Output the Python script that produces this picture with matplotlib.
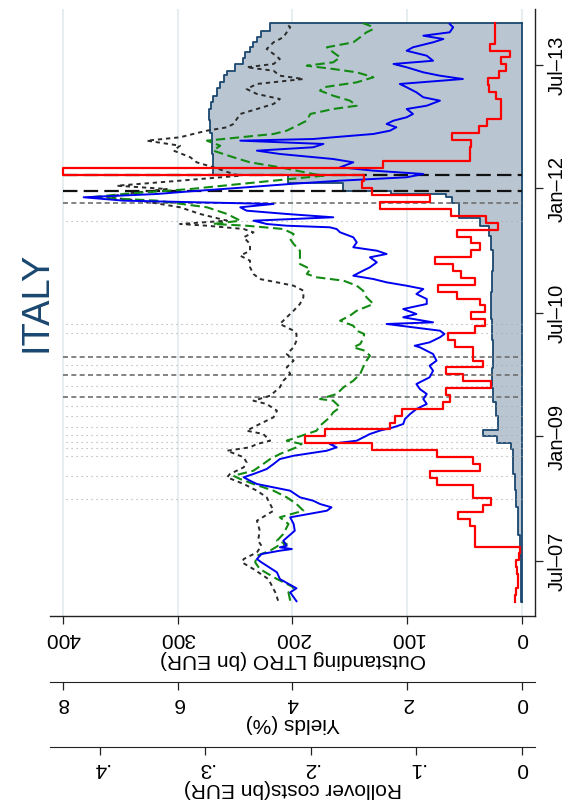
import numpy as np
import matplotlib
matplotlib.use("Agg")
import matplotlib.pyplot as plt

plt.rcParams['font.family'] = ['Liberation Sans', 'DejaVu Sans']

# ---------------- data (dates as decimal years) ----------------
# 2-year yield (blue, solid)
blue_t = [2007.005, 2007.112, 2007.161, 2007.273, 2007.354, 2007.435, 2007.475, 2007.515, 2007.576, 2007.616,
          2007.636, 2007.657, 2007.676, 2007.737, 2007.858, 2007.939, 2008.020, 2008.100, 2008.141, 2008.181,
          2008.221, 2008.262, 2008.342, 2008.383, 2008.423, 2008.463, 2008.504, 2008.544, 2008.604, 2008.665,
          2008.725, 2008.765, 2008.826, 2008.867, 2008.907, 2008.947, 2009.028, 2009.068, 2009.109, 2009.149,
          2009.209, 2009.270, 2009.330, 2009.391, 2009.451, 2009.512, 2009.572, 2009.633, 2009.714, 2009.794,
          2009.854, 2009.915, 2009.996, 2010.077, 2010.096, 2010.137, 2010.198, 2010.238, 2010.278, 2010.359,
          2010.379, 2010.440, 2010.480, 2010.540, 2010.601, 2010.661, 2010.722, 2010.782, 2010.822, 2010.863,
          2010.903, 2010.943, 2011.004, 2011.045, 2011.105, 2011.166, 2011.206, 2011.246, 2011.287, 2011.347,
          2011.408, 2011.468, 2011.508, 2011.529, 2011.548, 2011.569, 2011.609, 2011.650, 2011.690, 2011.730,
          2011.771, 2011.811, 2011.851, 2011.892, 2011.932, 2011.964, 2012.013, 2012.053, 2012.093, 2012.134,
          2012.174, 2012.214, 2012.255, 2012.315, 2012.355, 2012.416, 2012.456, 2012.497, 2012.537, 2012.577,
          2012.597, 2012.618, 2012.658, 2012.698, 2012.739, 2012.779, 2012.819, 2012.860, 2012.900, 2012.960,
          2013.000, 2013.061, 2013.102, 2013.162, 2013.223, 2013.263, 2013.323, 2013.363, 2013.404, 2013.465,
          2013.505, 2013.544, 2013.605, 2013.665, 2013.707, 2013.767, 2013.807, 2013.847, 2013.888, 2013.949,
          2013.989]
blue_v = [3.93, 4.04, 3.93, 4.22, 4.27, 4.45, 4.54, 4.62, 4.54, 4.22,
          4.01, 4.22, 4.10, 4.16, 3.96, 3.98, 4.04, 3.40, 3.32, 3.52,
          3.64, 3.87, 4.04, 4.33, 4.62, 4.74, 4.85, 4.68, 4.45, 4.33,
          4.22, 3.98, 3.40, 3.23, 3.35, 2.88, 2.65, 2.48, 2.24, 2.07,
          2.04, 1.95, 1.84, 1.66, 1.72, 1.66, 1.78, 1.84, 1.61, 1.55,
          1.61, 1.49, 1.55, 1.78, 1.87, 1.61, 1.43, 1.35, 1.43, 2.36,
          1.55, 2.07, 1.84, 2.07, 1.66, 1.66, 1.84, 1.72, 2.01, 2.36,
          2.59, 2.94, 2.77, 2.65, 2.53, 2.65, 2.36, 2.53, 2.94, 2.88,
          2.94, 3.17, 3.23, 3.35, 4.10, 4.45, 4.68, 3.29, 4.10, 4.80,
          4.91, 4.33, 6.94, 7.64, 6.36, 5.78, 4.80, 4.04, 3.17, 2.01,
          1.72, 2.59, 3.17, 2.94, 3.29, 4.22, 4.62, 3.64, 3.46, 4.91,
          3.64, 3.29, 2.59, 2.30, 2.19, 2.36, 2.24, 2.01, 1.90, 2.01,
          1.66, 1.43, 1.72, 1.84, 2.01, 2.13, 1.03, 1.43, 1.72, 2.01,
          2.24, 1.55, 1.66, 2.01, 1.90, 1.55, 1.37, 1.72, 1.26, 1.20,
          1.26]

# 5-year yield (green, dashed)
green_t = [2007.011, 2007.112, 2007.173, 2007.273, 2007.394, 2007.475, 2007.555, 2007.616, 2007.676, 2007.697,
           2007.737, 2007.818, 2007.939, 2008.020, 2008.100, 2008.181, 2008.262, 2008.342, 2008.423, 2008.483,
           2008.523, 2008.584, 2008.665, 2008.725, 2008.786, 2008.867, 2008.907, 2008.947, 2009.028, 2009.068,
           2009.128, 2009.230, 2009.290, 2009.351, 2009.431, 2009.451, 2009.512, 2009.593, 2009.673, 2009.754,
           2009.835, 2009.915, 2009.975, 2010.036, 2010.077, 2010.117, 2010.177, 2010.238, 2010.278, 2010.338,
           2010.399, 2010.459, 2010.520, 2010.601, 2010.682, 2010.762, 2010.822, 2010.883, 2010.924, 2010.964,
           2011.024, 2011.085, 2011.166, 2011.246, 2011.327, 2011.387, 2011.448, 2011.508, 2011.548, 2011.569,
           2011.609, 2011.690, 2011.771, 2011.851, 2011.892, 2011.932, 2011.992, 2012.053, 2012.113, 2012.153,
           2012.174, 2012.255, 2012.315, 2012.376, 2012.456, 2012.516, 2012.577, 2012.618, 2012.658, 2012.698,
           2012.739, 2012.819, 2012.900, 2012.960, 2013.000, 2013.061, 2013.121, 2013.182, 2013.223, 2013.283,
           2013.344, 2013.404, 2013.444, 2013.484, 2013.525, 2013.586, 2013.646, 2013.707, 2013.767, 2013.828,
           2013.888, 2013.928, 2013.968, 2013.998]
green_v = [4.04, 4.07, 3.98, 4.27, 4.57, 4.65, 4.62, 4.39, 4.25, 4.10,
           4.27, 4.16, 4.07, 4.22, 3.81, 3.93, 4.10, 4.33, 4.68, 4.91,
           5.03, 4.68, 4.51, 4.39, 4.22, 3.93, 3.84, 4.10, 3.75, 3.58,
           3.52, 3.35, 3.29, 3.17, 3.29, 3.52, 3.23, 3.11, 2.94, 2.82,
           2.77, 2.71, 2.65, 2.74, 2.94, 2.82, 2.77, 2.75, 2.88, 2.94,
           3.17, 3.00, 2.88, 2.59, 2.71, 2.77, 2.88, 3.11, 3.58, 3.75,
           3.69, 3.87, 3.87, 3.87, 3.98, 4.04, 3.98, 4.16, 4.80, 5.38,
           4.91, 5.14, 5.49, 6.36, 7.52, 6.94, 5.78, 4.91, 4.04, 3.46,
           3.64, 4.22, 4.74, 5.03, 5.38, 5.26, 5.49, 4.91, 4.33, 4.10,
           3.98, 3.75, 3.69, 3.29, 2.88, 3.00, 3.29, 3.52, 3.46, 2.88,
           2.59, 2.88, 3.29, 3.75, 3.29, 3.17, 3.29, 3.40, 2.94, 2.82,
           2.71, 2.59, 2.65, 2.77]

# 10-year yield (black, short dash)
black_t = [2007.011, 2007.112, 2007.273, 2007.394, 2007.475, 2007.515, 2007.596, 2007.676, 2007.737, 2007.858,
           2007.979, 2008.100, 2008.181, 2008.262, 2008.342, 2008.423, 2008.504, 2008.544, 2008.625, 2008.685,
           2008.746, 2008.826, 2008.867, 2008.907, 2008.947, 2009.028, 2009.068, 2009.149, 2009.230, 2009.310,
           2009.391, 2009.431, 2009.491, 2009.593, 2009.673, 2009.754, 2009.835, 2009.915, 2009.996, 2010.077,
           2010.157, 2010.238, 2010.278, 2010.359, 2010.440, 2010.520, 2010.601, 2010.682, 2010.762, 2010.822,
           2010.863, 2010.903, 2010.964, 2011.045, 2011.125, 2011.185, 2011.246, 2011.327, 2011.408, 2011.468,
           2011.508, 2011.548, 2011.569, 2011.609, 2011.690, 2011.771, 2011.851, 2011.892, 2011.932, 2011.992,
           2012.032, 2012.093, 2012.153, 2012.174, 2012.255, 2012.315, 2012.376, 2012.456, 2012.516, 2012.577,
           2012.618, 2012.658, 2012.698, 2012.739, 2012.779, 2012.839, 2012.900, 2012.960, 2013.021, 2013.081,
           2013.142, 2013.202, 2013.263, 2013.323, 2013.363, 2013.423, 2013.465, 2013.505, 2013.565, 2013.626,
           2013.686, 2013.767, 2013.828, 2013.888, 2013.949, 2013.989]
black_v = [4.25, 4.30, 4.42, 4.68, 4.88, 4.85, 4.62, 4.54, 4.60, 4.57,
           4.62, 4.33, 4.39, 4.45, 4.62, 4.85, 5.14, 5.09, 4.85, 4.80,
           4.85, 5.14, 4.74, 4.62, 4.39, 4.51, 4.80, 4.57, 4.33, 4.27,
           4.45, 4.68, 4.39, 4.22, 4.16, 4.04, 4.10, 3.98, 4.10, 3.98,
           3.93, 3.93, 3.98, 4.22, 4.10, 3.98, 3.87, 3.81, 3.81, 3.98,
           4.27, 4.57, 4.68, 4.74, 4.74, 4.91, 4.74, 4.74, 4.85, 4.68,
           4.85, 5.49, 5.96, 5.14, 5.61, 5.96, 6.65, 7.23, 6.94, 6.19,
           7.06, 5.96, 4.91, 5.03, 5.38, 5.67, 5.78, 6.07, 5.96, 6.54,
           5.96, 5.73, 5.49, 5.14, 5.03, 4.97, 4.91, 4.62, 4.33, 4.22,
           4.62, 4.80, 4.62, 3.81, 4.22, 4.33, 4.80, 4.33, 4.22, 4.33,
           4.45, 4.33, 4.16, 4.10, 4.04, 4.10]

# Outstanding LTRO (bn EUR), step series: value holds from date until next date
ltro_t = [2007.00, 2007.30, 2007.55, 2007.80, 2008.15, 2008.35, 2008.55, 2008.85, 2008.92, 2009.00,
          2009.08, 2009.25, 2009.42, 2009.58, 2009.83, 2010.17, 2010.42, 2010.75, 2011.00, 2011.25,
          2011.42, 2011.50, 2011.54, 2011.64, 2011.82, 2011.90, 2011.93, 2011.972, 2012.07, 2012.166,
          2012.42, 2012.67, 2012.83, 2012.96, 2013.04, 2013.12, 2013.21, 2013.29, 2013.37, 2013.42,
          2013.50, 2013.58, 2013.65, 2013.71, 2013.77, 2013.83, 2013.90]
ltro_v = [0.5, 1.0, 2.0, 3.5, 5.0, 6.4, 7.8, 9.3, 22.0, 34.0,
          20.6, 23.0, 25.0, 26.5, 25.0, 26.5, 27.3, 26.5, 25.5, 27.0,
          28.5, 29.0, 37.0, 55.0, 61.0, 66.0, 114.0, 156.0, 204.0, 269.0,
          270.0, 272.0, 273.0, 271.0, 269.0, 266.0, 263.0, 260.0, 257.0, 250.0,
          243.0, 241.0, 237.0, 234.0, 231.0, 227.0, 220.0]
ltro_end = 2014.0

# Monthly rollover costs (bn EUR), Jan 2007 .. Dec 2013
roll_v = [0.0069, 0.0054, 0.0038, 0.0038, 0.0047, 0.0054, 0.0028, 0.0022, 0.0448, 0.0448,
          0.0448, 0.0495, 0.0606, 0.0369, 0.0290, 0.0464, 0.0464, 0.0810, 0.0874, 0.0400,
          0.0464, 0.0810, 0.1426, 0.2060, 0.1870, 0.1250, 0.1200, 0.1140, 0.0748, 0.0685,
          0.0716, 0.0290, 0.0558, 0.0716, 0.0369, 0.0464, 0.0464, 0.0637, 0.0700, 0.0448,
          0.0353, 0.0480, 0.0353, 0.0400, 0.0620, 0.0795, 0.0448, 0.0574, 0.0653, 0.0827,
          0.0480, 0.0400, 0.0480, 0.0620, 0.0227, 0.0338, 0.0669, 0.1347, 0.0874, 0.1426,
          0.1520, 0.1500, 0.4350, 0.1316, 0.0495, 0.0495, 0.0480, 0.0668, 0.0410, 0.0330,
          0.0195, 0.0195, 0.0195, 0.0250, 0.0310, 0.0320, 0.0220, 0.0150, 0.0200, 0.0115,
          0.0300, 0.0260, 0.0260, 0.0260]
roll_start = 2007.0

# Event lines
ltro3y_dates = [2011.972, 2012.164]                       # 3-year LTROs
ltro12m_dates = [2009.479, 2009.747, 2009.958, 2011.819]  # 12-month LTROs
other_dates = [2008.241, 2008.516, 2008.765, 2008.858, 2008.927, 2009.016, 2009.109,
               2009.249, 2009.370, 2009.605, 2009.863, 2010.246, 2010.362, 2011.609]

time_ticks = [2007.496, 2009.0, 2010.496, 2012.0, 2013.496]
time_labels = ['Jul\u201307', 'Jan\u201309', 'Jul\u201310', 'Jan\u201312', 'Jul\u201313']
ltro_ticks = [0, 100, 200, 300, 400]
yield_ticks = [0, 2, 4, 6, 8]
roll_ticks = [0, 0.1, 0.2, 0.3, 0.4]
roll_labels = ['0', '.1', '.2', '.3', '.4']

# scale factors: all series drawn in LTRO units
PER_YIELD = 50.0
PER_ROLL = 1.0 / 0.0010876

# ---------------- figure ----------------
W, H = 569, 803
fig = plt.figure(figsize=(W / 100, H / 100), dpi=100)
fig.patch.set_facecolor('white')
ax = fig.add_axes([50 / W, 1 - 617 / H, 485 / W, 607 / H])
ax.set_xlim(411.3, -11.33)
ax.set_ylim(2006.826, 2014.170)

navy = '#1a476f'
for v in ltro_ticks:
    ax.axvline(v, color='#e2ebee', lw=1.2, zorder=0)

# LTRO area
lt = np.array(ltro_t + [ltro_end])
lv = np.array(ltro_v + [ltro_v[-1]])
ax.fill_betweenx(lt, 0, lv, step='post', facecolor='#b9c6d1', edgecolor='none', zorder=1)
st = np.repeat(lt, 2)[1:-1]
sv = np.repeat(lv[:-1], 2)
ax.plot(np.r_[0, sv, 0], np.r_[lt[0], st, lt[-1]], color=navy, lw=1.3, zorder=1.5)
ax.plot([0, 0], [lt[0], lt[-1]], color=navy, lw=1.3, zorder=1.5)

# event lines
for d in other_dates:
    ax.plot([397, 0], [d, d], color='#a8a8a8', lw=0.8, dashes=(1, 3.5), zorder=2)
for d in ltro12m_dates:
    ax.plot([400, 0], [d, d], color='#6e6e6e', lw=1.2, dashes=(3, 2), zorder=2)
for d in ltro3y_dates:
    ax.plot([400, 0], [d, d], color='#111111', lw=1.6, dashes=(6.5, 2.8), zorder=2)

# yields
ax.plot(np.array(black_v) * PER_YIELD, black_t, color='#2b2b2b', lw=1.4, dashes=(2.2, 2.0), zorder=3)
ax.plot(np.array(green_v) * PER_YIELD, green_t, color='#138a13', lw=1.5, dashes=(4.5, 2.2), zorder=3.1)
ax.plot(np.array(blue_v) * PER_YIELD, blue_t, color='#0000f0', lw=1.4, zorder=3.2)

# rollover costs (monthly step)
mt = roll_start + np.arange(len(roll_v) + 1) / 12.0
rt = np.repeat(mt, 2)[1:-1]
rv = np.repeat(np.array(roll_v), 2)
ax.plot(rv * PER_ROLL, rt, color='#ff0000', lw=1.6, zorder=3.5)

# axes styling
for s in ['top', 'left']:
    ax.spines[s].set_visible(False)
for s in ['bottom', 'right']:
    ax.spines[s].set_color('#222222')
    ax.spines[s].set_linewidth(1.0)

ax.yaxis.tick_right()
ax.set_yticks(time_ticks)
ax.set_yticklabels(time_labels, rotation=90, va='center', fontsize=14.5)
ax.tick_params(axis='y', direction='out', length=6, width=0.9, pad=3, colors='#222222', labelcolor='black')

ax.set_xticks(ltro_ticks)
ax.set_xticklabels([str(v) for v in ltro_ticks], rotation=180, fontsize=15)
ax.tick_params(axis='x', direction='out', length=6, width=0.9, pad=3, colors='#222222', labelcolor='black')
ax.set_xlabel('Outstanding LTRO (bn EUR)', rotation=180, fontsize=15, labelpad=1)

sec_y = ax.secondary_xaxis((617 - 683) / 607, functions=(lambda x: x / PER_YIELD, lambda x: x * PER_YIELD))
sec_y.set_xticks(yield_ticks)
sec_y.set_xticklabels([str(v) for v in yield_ticks], rotation=180, fontsize=15)
sec_y.tick_params(axis='x', direction='out', length=6, width=0.9, pad=2, colors='#222222', labelcolor='black')
sec_y.spines['bottom'].set_color('#222222')
sec_y.set_xlabel('Yields (%)', rotation=180, fontsize=15, labelpad=0.5)

sec_r = ax.secondary_xaxis((617 - 748) / 607, functions=(lambda x: x / PER_ROLL, lambda x: x * PER_ROLL))
sec_r.set_xticks(roll_ticks)
sec_r.set_xticklabels(roll_labels, rotation=180, fontsize=15)
sec_r.tick_params(axis='x', direction='out', length=6, width=0.9, pad=2, colors='#222222', labelcolor='black')
sec_r.spines['bottom'].set_color('#222222')
sec_r.set_xlabel('Rollover costs(bn EUR)', rotation=180, fontsize=15, labelpad=0.5)

fig.text(36 / W, 1 - 302 / H, 'ITALY', rotation=90, fontsize=27.5, color=navy,
         ha='center', va='center')

fig.savefig('out.png', dpi=100, facecolor='white')
